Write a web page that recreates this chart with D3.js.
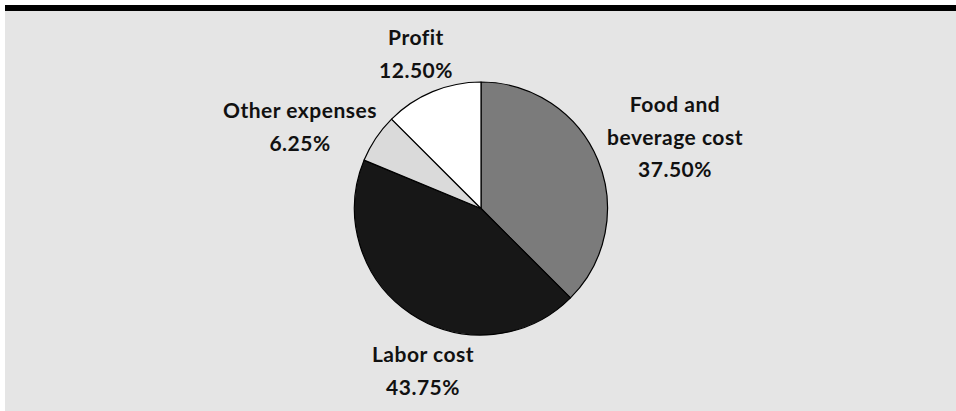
<!DOCTYPE html>
<html>
<head>
<meta charset="utf-8">
<script src="https://cdn.jsdelivr.net/npm/d3@7"></script>
<style>
  html, body { margin: 0; padding: 0; background: #ffffff; }
  svg { display: block; }
</style>
</head>
<body>
<script>
var categories = ["Food and beverage cost", "Labor cost", "Other expenses", "Profit"];
var values = [37.5, 43.75, 6.25, 12.5];
var valueLabels = ["37.50%", "43.75%", "6.25%", "12.50%"];
var labelLines = [["Food and", "beverage cost"], ["Labor cost"], ["Other expenses"], ["Profit"]];
var colors = ["#7b7b7b", "#171717", "#dadada", "#ffffff"];

var w = 956;
var h = 411;
var cx = 481;
var cy = 208.5;
var r = 126.5;

// label anchor (center x, first baseline y) for each slice
var labelPos = [[675, 112], [423, 362], [300, 118], [416, 45]];
var lineGap = 32.5;

var svg = d3.select("body")
    .append("svg")
    .attr("width", w)
    .attr("height", h);

svg.append("rect")
    .attr("x", 5).attr("y", 5)
    .attr("width", w - 5).attr("height", h - 5)
    .attr("fill", "#e5e5e5");

svg.append("rect")
    .attr("x", 5).attr("y", 5)
    .attr("width", w - 5).attr("height", 6)
    .attr("fill", "#000000");

var pie = d3.pie().sort(null).value(function (d) { return d; });
var arc = d3.arc().innerRadius(0).outerRadius(r);

var g = svg.append("g").attr("transform", "translate(" + cx + "," + cy + ")");

g.selectAll("path")
    .data(pie(values))
    .enter()
    .append("path")
    .attr("d", arc)
    .attr("fill", function (d, i) { return colors[i]; })
    .attr("stroke", "#000")
    .attr("stroke-width", 1.2)
    .attr("stroke-linejoin", "round");

var labels = svg.append("g")
    .attr("font-family", "Lato, 'Open Sans', sans-serif")
    .attr("font-weight", "bold")
    .attr("font-size", 21)
    .attr("letter-spacing", 0.5)
    .attr("fill", "#111")
    .attr("text-anchor", "middle");

categories.forEach(function (c, i) {
    var lines = labelLines[i].concat([valueLabels[i]]);
    var t = labels.append("text")
        .attr("x", labelPos[i][0])
        .attr("y", labelPos[i][1]);
    lines.forEach(function (s, j) {
        t.append("tspan")
            .attr("x", labelPos[i][0])
            .attr("y", labelPos[i][1] + j * lineGap)
            .text(s);
    });
});
</script>
</body>
</html>
